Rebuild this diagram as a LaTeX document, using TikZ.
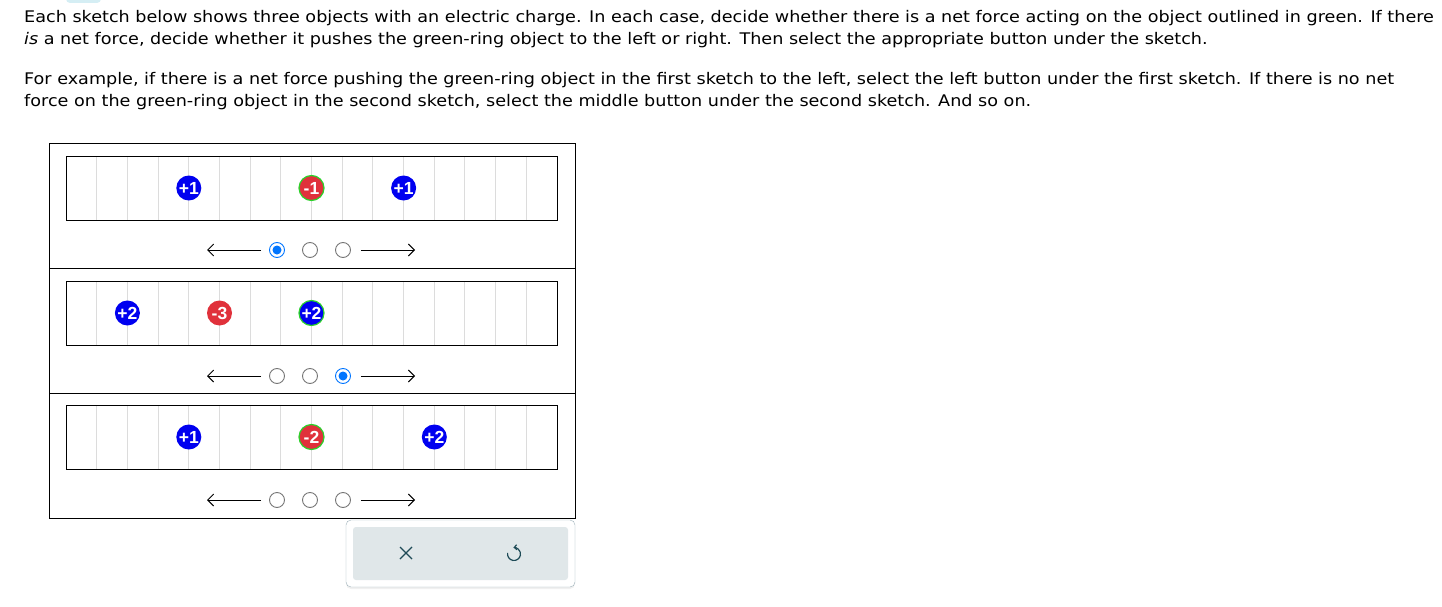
\documentclass[tikz,border=0pt]{standalone}
\usepackage{fontspec}
\setmainfont{DejaVu Sans}[FakeStretch=1.1]
\newfontfamily\chargefont{Liberation Sans}
\usetikzlibrary{arrows.meta,shadows}
\definecolor{posblue}{HTML}{0000F0}
\definecolor{negred}{HTML}{E0313B}
\definecolor{ringgreen}{HTML}{2BD22B}
\definecolor{gridgray}{HTML}{DCDCDC}
\definecolor{radiogray}{HTML}{767676}
\definecolor{radioblue}{HTML}{0075FF}
\definecolor{panelline}{HTML}{9FB3BB}
\definecolor{panelfill}{HTML}{E0E7E9}
\definecolor{icondark}{HTML}{1E4B57}
\definecolor{topcyan}{HTML}{D5EEF4}

\tikzset{
  charge/.style={circle, inner sep=0pt, minimum size=25pt, text=white,
    font=\chargefont\bfseries\fontsize{17.5}{17.5}\selectfont},
  poscharge/.style={charge, fill=posblue},
  negcharge/.style={charge, fill=negred},
  ringed/.style={draw=ringgreen, line width=1.2pt},
  radio/.style={circle, draw=radiogray, line width=0.9pt, minimum size=15pt, inner sep=0pt, fill=white},
  picked/.style={radio, draw=radioblue,
    path picture={\fill[radioblue] (path picture bounding box.center) circle (4.5pt);}},
  dirarrow/.style={-{Straight Barb[length=6pt,width=12pt]}, line width=0.9pt},
  sketchbox/.style={draw=black, line width=1pt},
  textline/.style={anchor=base west, inner sep=0pt, font=\fontsize{16}{19}\selectfont}
}

\begin{document}
\begin{tikzpicture}[x=1pt,y=-1pt]
\useasboundingbox (0,0) rectangle (1442,607);
\fill[topcyan, rounded corners=4pt] (66,-10) rectangle (101,3);

\node (line1) [textline] at (24,23) {Each sketch below shows three objects with an electric charge. In each case, decide whether there is a net force acting on the object outlined in green. If there};
\node (line2) [textline] at (24,45) {\textit{is} a net force, decide whether it pushes the green-ring object to the left or right. Then select the appropriate button under the sketch.};
\node (line3) [textline] at (24,85) {For example, if there is a net force pushing the green-ring object in the first sketch to the left, select the left button under the first sketch. If there is no net};
\node (line4) [textline] at (24,107) {force on the green-ring object in the second sketch, select the middle button under the second sketch. And so on.};

\draw [line width=1pt] (49,143) rectangle (575,518);
\draw [line width=1pt] (49,268) -- (575,268) (49,393) -- (575,393);

\foreach \y in {188,313,437}{
  \foreach \k in {1,...,15}
    \draw [gridgray, line width=1pt] (66+30.6875*\k,\y-32) -- (66+30.6875*\k,\y+32);
  \draw [sketchbox] (66,\y-32) rectangle (557,\y+32);
}

\node [poscharge] (a1) at (188.8,188) {+1};
\node [negcharge, ringed] (a2) at (311.5,188) {-1};
\node [poscharge] (a3) at (403.6,188) {+1};

\node [poscharge] (b1) at (127.4,313) {+2};
\node [negcharge] (b2) at (219.5,313) {-3};
\node [poscharge, ringed] (b3) at (311.5,313) {+2};

\node [poscharge] (c1) at (188.8,437) {+1};
\node [negcharge, ringed] (c2) at (311.5,437) {-2};
\node [poscharge] (c3) at (434.3,437) {+2};

\foreach \r/\y/\s in {1/250/1, 2/376/3, 3/500/0}{
  \foreach \i/\x in {1/277, 2/310, 3/343}{
    \ifnum\i=\s \def\kind{picked}\else\def\kind{radio}\fi
    \node [\kind] (r\r\i) at (\x,\y) {};
  }
  \coordinate (lt\r) at (207,\y);
  \coordinate (rt\r) at (415,\y);
  \draw [dirarrow] ([xshift=-8pt]r\r1.west) -- (lt\r);
  \draw [dirarrow] ([xshift=10pt]r\r3.east) -- (rt\r);
}

\draw [panelline, fill=white, rounded corners=5pt,
  drop shadow={opacity=0.12, shadow xshift=0pt, shadow yshift=-2pt}] (346,520) rectangle (575,587);
\fill [panelfill, rounded corners=3pt] (353,527) rectangle (568,580);
\draw [icondark, line width=1.3pt] (400,547) -- (412,559) (400,559) -- (412,547);
\draw [icondark, line width=1.2pt, -{Straight Barb[length=2.5pt,width=5pt]}]
  (514,554) ++(170:6.5pt) arc [start angle=170, end angle=455, radius=6.5pt];
\end{tikzpicture}
\end{document}
